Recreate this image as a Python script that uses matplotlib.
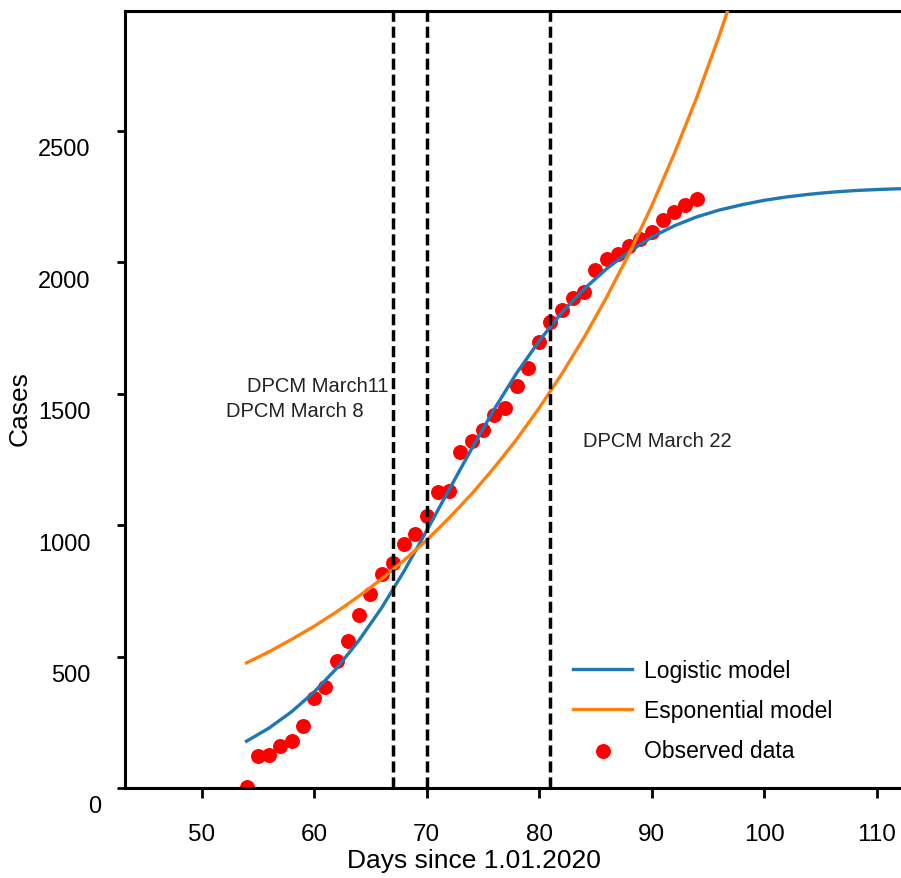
import matplotlib
matplotlib.use("Agg")
import matplotlib.pyplot as plt
from matplotlib.transforms import ScaledTranslation

plt.rcParams['font.family'] = ['Liberation Sans', 'DejaVu Sans']

# observed cases, day 54 .. 94
obs_days = list(range(54, 95))
obs_cases = [3, 123, 127, 159, 180, 236, 343, 383, 483, 559, 658, 738, 814,
             856, 928, 966, 1036, 1125, 1131, 1277, 1321, 1363, 1419, 1444,
             1528, 1598, 1695, 1774, 1818, 1863, 1885, 1971, 2010, 2031,
             2063, 2086, 2116, 2162, 2190, 2218, 2240]

# logistic model curve (read every 2 days)
log_days = list(range(54, 113, 2))
log_cases = [178, 228, 290, 365, 455, 562, 685, 825, 978, 1135, 1290, 1440,
             1578, 1700, 1808, 1898, 1975, 2040, 2095, 2138, 2172, 2198,
             2218, 2235, 2248, 2258, 2266, 2272, 2276, 2279]

# exponential model curve (read every 2 days)
exp_days = list(range(54, 99, 2))
exp_cases = [476, 518, 565, 615, 670, 730, 795, 866, 942, 1027, 1118, 1218,
             1326, 1445, 1574, 1714, 1867, 2033, 2214, 2412, 2626, 2861, 3116]

dpcm_days = [67, 70, 81]
yticks = [0, 500, 1000, 1500, 2000, 2500]
xticks = [50, 60, 70, 80, 90, 100, 110]

fig = plt.figure(figsize=(9.01, 8.79), dpi=100)
ax = fig.add_axes([125 / 901, 90 / 879, 776 / 901, 777 / 879])

sc = ax.scatter(obs_days, obs_cases, s=95, color='#ff0000', zorder=2)
l1, = ax.plot(log_days, log_cases, color='#1f77b4', lw=2.4, zorder=3)
l2, = ax.plot(exp_days, exp_cases, color='#ff7f0e', lw=2.4, zorder=3)
for d in dpcm_days:
    ax.axvline(d, color='black', lw=2.5, linestyle=(0, (3.2, 1.4)), zorder=4)

ax.text(66.6, 1530, 'DPCM March11', ha='right', va='center', fontsize=14.5,
        color='#222222')
ax.text(64.4, 1435, 'DPCM March 8', ha='right', va='center', fontsize=14.5,
        color='#222222')
ax.text(83.9, 1320, 'DPCM March 22', ha='left', va='center', fontsize=14.5,
        color='#222222')

ax.set_xlim(43.2, 112.15)
ax.set_ylim(0, 2955)
ax.set_xticks(xticks)
ax.set_yticks(yticks)
ax.tick_params(axis='x', direction='out', length=7, width=2, pad=18,
               labelsize=17.5)
ax.tick_params(axis='y', direction='out', length=6, width=2, pad=19,
               labelsize=17)
for lab in ax.get_yticklabels():
    dx = 11 / 100 if lab.get_text() == '0' else 0
    lab.set_transform(lab.get_transform() +
                      ScaledTranslation(dx, -16 / 100, fig.dpi_scale_trans))

ax.spines['right'].set_visible(False)
for s in ['left', 'bottom', 'top']:
    ax.spines[s].set_linewidth(2.2)

ax.set_xlabel('Days since 1.01.2020', fontsize=19)
ax.xaxis.set_label_coords((474 - 125) / 776, -0.077)
ax.set_ylabel('Cases', fontsize=19)
ax.yaxis.set_label_coords(-0.12, 0.49)

ax.legend([l1, l2, sc], ['Logistic model', 'Esponential model', 'Observed data'],
          loc='upper left', bbox_to_anchor=(0.577, 0.166), frameon=False,
          fontsize=16.5, borderpad=0, borderaxespad=0, handlelength=2.6,
          handletextpad=0.5, labelspacing=0.75)

fig.savefig('out.png', dpi=100)
